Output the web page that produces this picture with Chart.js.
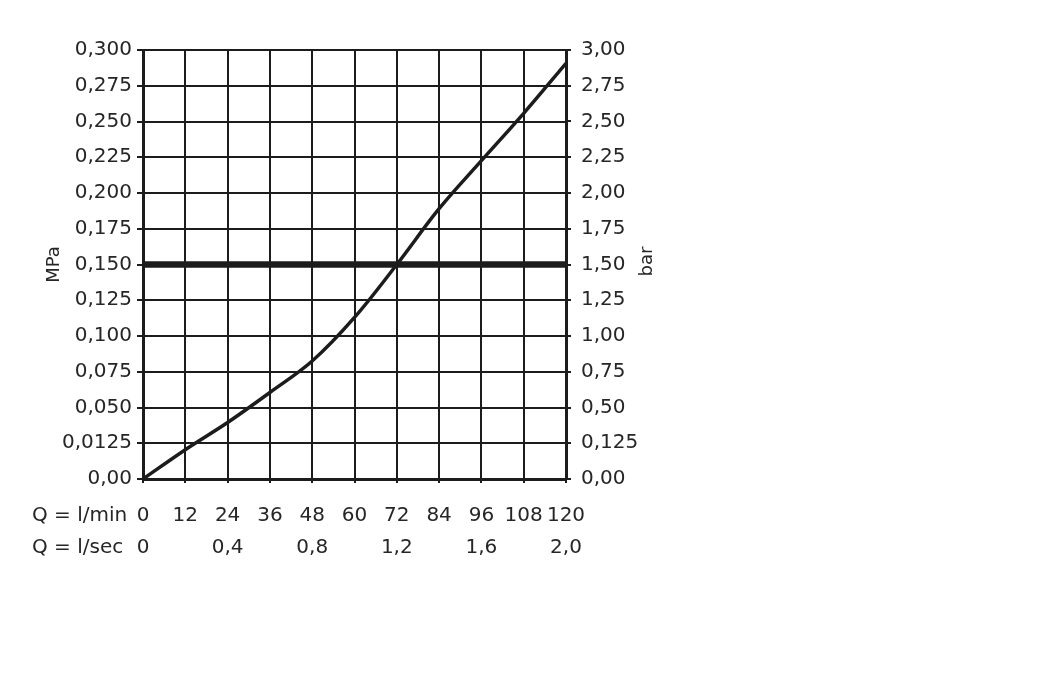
<!DOCTYPE html>
<html>
<head>
<meta charset="utf-8">
<script src="https://cdn.jsdelivr.net/npm/chart.js@4.4.1/dist/chart.umd.min.js"></script>
<style>
    body { margin: 0; background: #ffffff; }
    canvas { display: block; }
</style>
</head>
<body>
<canvas id="pressureChart" width="1059" height="675"></canvas>
<script>
// DATA
const flowLpm = [0, 12, 24, 36, 48, 60, 72, 84, 96, 108, 120];
const pressureMPa = [0, 0.0205, 0.0395, 0.0605, 0.0825, 0.113, 0.150, 0.189, 0.2226, 0.2557, 0.2907];

const limitFlow = [0, 120];
const limitMPa = [0.150, 0.150];

const mpaLabels = ['0,00', '0,0125', '0,050', '0,075', '0,100', '0,125', '0,150', '0,175', '0,200', '0,225', '0,250', '0,275', '0,300'];
const barLabels = ['0,00', '0,125', '0,50', '0,75', '1,00', '1,25', '1,50', '1,75', '2,00', '2,25', '2,50', '2,75', '3,00'];
const lpmLabels = ['0', '12', '24', '36', '48', '60', '72', '84', '96', '108', '120'];
const lpsLabels = ['0', '', '0,4', '', '0,8', '', '1,2', '', '1,6', '', '2,0'];

const ink = '#1c1c1c';
const textInk = '#262626';

Chart.defaults.font.family = 'DejaVu Sans';
Chart.defaults.font.size = 20;
Chart.defaults.color = textInk;

const X_TICK = 4, X_PAD = 21, X2_PAD = 7;

// axis captions that Chart.js can't place itself
const captions = {
    id: 'captions',
    afterDraw(chart) {
        const c = chart.ctx;
        const sx = chart.scales.x;
        const sx2 = chart.scales.x2;
        c.save();
        c.fillStyle = textInk;
        c.font = '20px "DejaVu Sans"';
        c.textAlign = 'left';
        c.textBaseline = 'middle';
        c.fillText('Q = l/min', 32, sx.top + X_TICK + X_PAD + 12);
        c.fillText('Q = l/sec', 32, sx2.top + X2_PAD + 12);

        c.font = '18px "DejaVu Sans"';
        c.textAlign = 'center';
        c.translate(647, (chart.chartArea.top + chart.chartArea.bottom) / 2 - 3);
        c.rotate(-Math.PI / 2);
        c.fillText('bar', 0, 0);
        c.restore();
    }
};

const ctx = document.getElementById('pressureChart');

new Chart(ctx, {
    type: 'line',
    data: {
        datasets: [
            {
                label: 'Druck',
                data: flowLpm.map((q, i) => ({ x: q, y: pressureMPa[i] })),
                borderColor: ink,
                borderWidth: 3.5,
                tension: 0.35,
                pointRadius: 0,
                fill: false
            },
            {
                label: 'Grenze',
                data: limitFlow.map((q, i) => ({ x: q, y: limitMPa[i] })),
                borderColor: ink,
                borderWidth: 6.5,
                borderCapStyle: 'butt',
                pointRadius: 0,
                fill: false
            }
        ]
    },
    options: {
        responsive: false,
        animation: false,
        layout: {
            padding: { top: 50, right: 398, bottom: 106, left: 0 }
        },
        plugins: {
            legend: { display: false },
            tooltip: { enabled: false }
        },
        scales: {
            x: {
                type: 'linear',
                position: 'bottom',
                min: 0,
                max: 120,
                afterFit(scale) { scale.height = 50; },
                ticks: {
                    stepSize: 12,
                    padding: X_PAD,
                    maxRotation: 0,
                    autoSkip: false,
                    callback: (v, i) => lpmLabels[i]
                },
                grid: { color: ink, lineWidth: 2, tickLength: X_TICK },
                border: { color: ink, width: 3 }
            },
            x2: {
                type: 'linear',
                position: 'bottom',
                min: 0,
                max: 120,
                afterFit(scale) { scale.height = 40; },
                ticks: {
                    stepSize: 12,
                    padding: X2_PAD,
                    maxRotation: 0,
                    autoSkip: false,
                    callback: (v, i) => lpsLabels[i]
                },
                grid: { display: false, drawTicks: false },
                border: { display: false }
            },
            y: {
                position: 'left',
                min: 0,
                max: 0.3,
                afterFit(scale) { scale.width = 143; },
                ticks: {
                    stepSize: 0.025,
                    padding: 5,
                    autoSkip: false,
                    callback: (v, i) => mpaLabels[i]
                },
                title: {
                    display: true,
                    text: 'MPa',
                    font: { size: 18 },
                    padding: { top: 44 }
                },
                grid: { color: ink, lineWidth: 2, tickLength: 6 },
                border: { color: ink, width: 3 }
            },
            y2: {
                position: 'right',
                min: 0,
                max: 3,
                afterFit(scale) { scale.width = 95; },
                ticks: {
                    stepSize: 0.25,
                    padding: 10,
                    autoSkip: false,
                    callback: (v, i) => barLabels[i]
                },
                grid: { drawOnChartArea: false, color: ink, lineWidth: 2, tickLength: 5 },
                border: { color: ink, width: 3 }
            }
        }
    },
    plugins: [captions]
});
</script>
</body>
</html>
